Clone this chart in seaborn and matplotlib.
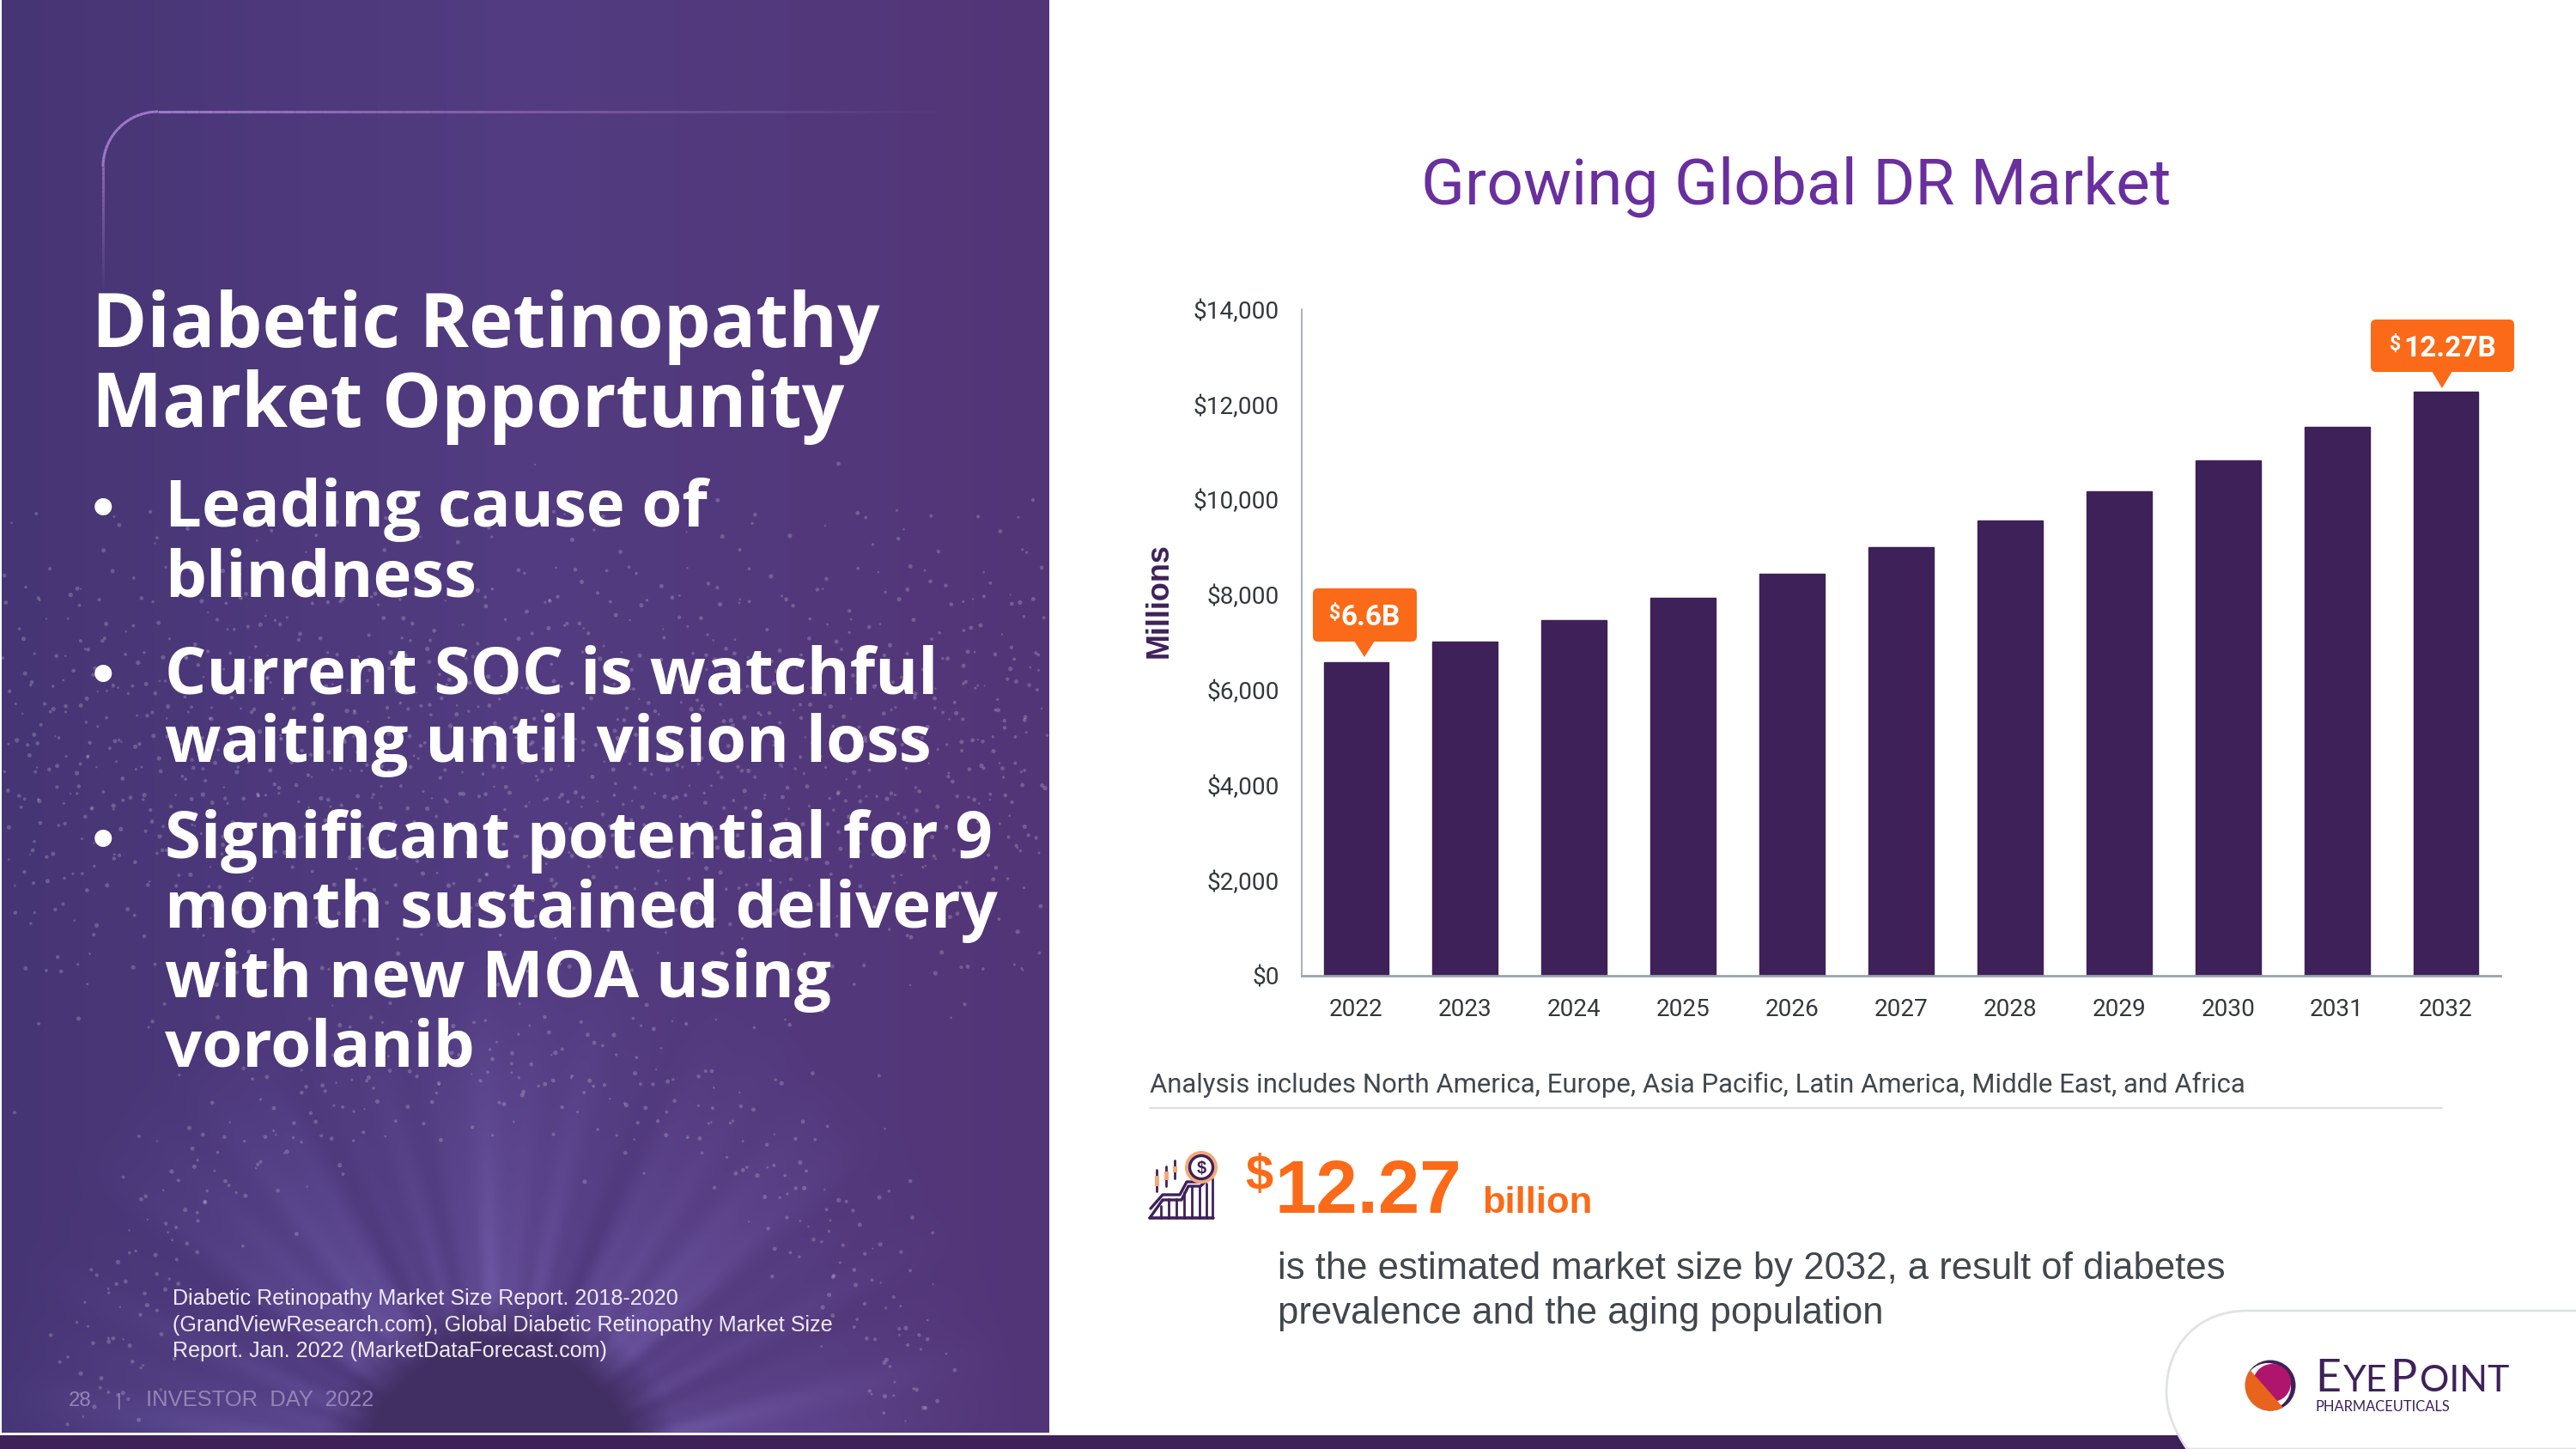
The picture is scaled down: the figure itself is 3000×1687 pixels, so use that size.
import numpy as np
import pandas as pd
import matplotlib
matplotlib.use('Agg')
import matplotlib.pyplot as plt
import seaborn as sns
from matplotlib.patches import PathPatch, FancyBboxPatch, Polygon, Circle, Rectangle
from matplotlib.path import Path
from matplotlib.collections import LineCollection

# chart values ($ millions)
years = ['2022', '2023', '2024', '2025', '2026', '2027', '2028', '2029', '2030', '2031', '2032']
market_size = [6590, 7020, 7470, 7940, 8450, 9000, 9560, 10170, 10830, 11530, 12270]
y_ticks = [0, 2000, 4000, 6000, 8000, 10000, 12000, 14000]
y_tick_labels = ['$0', '$2,000', '$4,000', '$6,000', '$8,000', '$10,000', '$12,000', '$14,000']

title = 'Growing Global DR Market'
headline = ['Diabetic Retinopathy', 'Market Opportunity']
bullets = ['Leading cause of', 'blindness', 'Current SOC is watchful', 'waiting until vision loss',
           'Significant potential for 9', 'month sustained delivery', 'with new MOA using', 'vorolanib']
footnote = ['Diabetic Retinopathy Market Size Report. 2018-2020',
            '(GrandViewResearch.com), Global Diabetic Retinopathy Market Size',
            'Report. Jan. 2022 (MarketDataForecast.com)']

PURPLE = '#3f2159'
ORANGE = '#fa6a18'
GREY = '#41474d'
W, H = 3000, 1687


def pt(px):
    # pixel height of the em -> points at 200 dpi
    return px * 72 / 200


sns.set_theme(style='white')
plt.rcParams['font.family'] = ['Liberation Sans', 'DejaVu Sans']
plt.rcParams['text.parse_math'] = False

fig = plt.figure(figsize=(15, 8.435), dpi=200, facecolor='white')

# --- bar chart ---
ax = fig.add_axes([1516 / W, 1 - 1136 / H, 1396 / W, 776 / H], facecolor='none', zorder=2)
df = pd.DataFrame({'year': years, 'size': market_size})
sns.barplot(data=df, x='year', y='size', color=PURPLE, saturation=1, width=0.598, edgecolor=PURPLE, linewidth=0.5, ax=ax)
ax.set_xlim(-0.5, 10.5)
ax.set_ylim(0, 14000)
ax.set_yticks(y_ticks)
ax.set_yticklabels(y_tick_labels, fontfamily='Roboto', fontsize=pt(28), color='#33383d')
ax.set_xticks(range(len(years)))
ax.set_xticklabels(years, fontfamily='Roboto', fontsize=pt(28), color='#33383d')
ax.tick_params(axis='y', length=0, pad=9.5)
ax.tick_params(axis='x', length=0, pad=9.5)
ax.set_xlabel('')
ax.set_ylabel('Millions', fontsize=pt(36), fontweight='bold', color=PURPLE)
ax.yaxis.set_label_coords(-0.106, 0.563)
sns.despine(ax=ax)
for side in ['left', 'bottom']:
    ax.spines[side].set_color('#9aa3ad')
ax.spines['left'].set_linewidth(0.6)
ax.spines['bottom'].set_linewidth(1.0)

# --- overlay in slide pixels ---
ov = fig.add_axes([0, 0, 1, 1], facecolor='none', zorder=3)
ov.set_xlim(0, W)
ov.set_ylim(H, 0)
ov.axis('off')

# left panel background: gradient, light rays and dark dome
yy, xx = np.mgrid[0:1668:2, 2:1222:2]
u = (xx - 2) / 1220
left_c = np.array([0x46, 0x35, 0x75])
mid_c = np.array([0x53, 0x3c, 0x81])
right_c = np.array([0x52, 0x35, 0x77])
base = np.where(u[..., None] < 0.5,
                left_c + (mid_c - left_c) * (u[..., None] / 0.5),
                mid_c + (right_c - mid_c) * ((u[..., None] - 0.5) / 0.5))
r = np.hypot(xx - 580, yy - 1720)
ang = np.arctan2(xx - 580, 1720 - yy)
rays = 0.55 + 0.3 * np.cos(ang * 9) + 0.2 * np.cos(ang * 23 + 1) + 0.12 * np.cos(ang * 51 + 2)
fade = np.clip(1 - r / 620, 0, 1) ** 1.1
glow = (rays * fade)[..., None] * np.array([36, 38, 48])
img = base + glow
dome = np.clip((215 - r) / 60, 0, 1)[..., None]
img = img * (1 - dome) + np.array([0x41, 0x2e, 0x62]) * dome
ov.imshow(np.clip(img, 0, 255).astype(np.uint8), extent=(2, 1222, 1668, 0), aspect='auto', zorder=0,
          interpolation='bilinear')
ov.set_xlim(0, W)
ov.set_ylim(H, 0)

# speckles on a fixed lattice, pushed off the grid and thinned towards top and bottom
idx = np.arange(1, 5200)
sx = 2 + 1220 * ((idx * 0.7548776662) % 1) + 22 * np.sin(idx * 12.9898)
sy = 560 + 1090 * ((idx * 0.5698402910) % 1) + 22 * np.sin(idx * 78.233)
density = np.exp(-((sy - 880) / 210) ** 2) * 0.75 + 0.6 * np.exp(-((np.hypot(sx - 580, sy - 1720) - 480) / 60) ** 2)
keep = (((idx * 0.6180339887) % 1) < density) & (sx > 3) & (sx < 1220) & (sy < 1665)
ov.scatter(sx[keep], sy[keep], s=((idx[keep] * 0.381) % 1) * 3 + 0.6, c='white', alpha=0.2, linewidths=0, zorder=1)

# rounded bracket at the top of the panel, fading out at both ends
th = np.linspace(np.pi, 1.5 * np.pi, 24)
bx = np.r_[np.full(30, 120), 184 + 64 * np.cos(th), np.linspace(184, 1122, 60)]
by = np.r_[np.linspace(345, 194, 30), 194 + 64 * np.sin(th), np.full(60, 130)]
pts = np.c_[bx, by]
seg_alpha = np.r_[np.linspace(0, 0.7, 30), np.full(23, 0.9), np.linspace(0.9, 0, 60)]
seg_col = [(0.66, 0.50, 0.82, a) for a in seg_alpha]
ov.add_collection(LineCollection(np.stack([pts[:-1], pts[1:]], axis=1)[:len(seg_col)], colors=seg_col, linewidths=1.1, zorder=2))

# left panel text
for line, base_y in zip(headline, [404, 497]):
    ov.text(107, base_y, line, fontsize=pt(87), fontweight='bold', fontfamily='Open Sans', color='white', va='baseline', zorder=4)
for line, base_y in zip(bullets, [613, 694, 807, 887, 999, 1080, 1161, 1242]):
    ov.text(192, base_y, line, fontsize=pt(76), fontweight='bold', fontfamily='Open Sans', color='white', va='baseline', zorder=4)
for base_y in [613, 807, 999]:
    ov.text(108, base_y, '•', fontsize=pt(70), fontweight='bold', color='white', va='baseline', zorder=4)
for line, base_y in zip(footnote, [1519, 1550, 1580]):
    ov.text(201, base_y, line, fontsize=pt(25.1), color='#eeeaf4', va='baseline', zorder=4)
ov.text(80, 1637, '28', fontsize=pt(24), color='#9484b8', va='baseline', zorder=4)
ov.text(135, 1637, '|', fontsize=pt(21), color='#9484b8', va='baseline', zorder=4)
ov.text(170, 1637, 'INVESTOR  DAY  2022', fontsize=pt(25.5), color='#9484b8', va='baseline', zorder=4)

# footer bar and logo tab
ov.add_patch(Rectangle((0, 1671), 2600, 16, fc=PURPLE, ec='none', zorder=1))
tab = Path([(3000, 1526), (2618, 1526), (2560, 1526), (2523, 1565), (2523, 1621), (2523, 1645), (2533, 1666), (2547, 1687), (3000, 1687)],
           [Path.MOVETO, Path.LINETO, Path.CURVE4, Path.CURVE4, Path.CURVE4, Path.CURVE4, Path.CURVE4, Path.CURVE4, Path.LINETO])
ov.add_patch(PathPatch(tab, fc='white', ec='#dfe3e3', lw=1.0, zorder=2))

# logo mark
cx, cy = 2644, 1613
ov.add_patch(Circle((cx, cy), 29.5, fc=PURPLE, ec='none', zorder=3))
ov.add_patch(Circle((cx - 3, cy + 1), 27, fc='white', ec='none', zorder=3))
ov.add_patch(Circle((cx + 2, cy - 3), 22, fc='#b0156e', ec='none', zorder=4))
clip = Circle((cx, cy), 29.5, transform=ov.transData)
orange_part = Polygon([(2616, 1590), (2660, 1640), (2660, 1650), (2605, 1650), (2605, 1590)], fc='#e8641c', ec='none', zorder=5)
ov.add_patch(orange_part)
orange_part.set_clip_path(clip)

# EYEPOINT is set in small caps: flow the pieces one after the other
fig.canvas.draw()
x_pos = 2696
for piece, em in [('E', 52), ('YE', 43), ('P', 52), ('OINT', 43)]:
    t = ov.text(x_pos, 1620, piece, fontsize=pt(em), fontfamily='Lato', color=PURPLE, va='baseline', zorder=4)
    ext = t.get_window_extent(fig.canvas.get_renderer())
    x_pos += ext.width + 3
ov.text(2696, 1643, 'PHARMACEUTICALS', fontsize=pt(16.5), fontfamily='Lato', color=PURPLE, va='baseline', zorder=4)

# chart title and notes
ov.text(2092, 237, title, fontsize=pt(74.8), fontfamily='Roboto', color='#6a2f9e', ha='center', va='baseline')
ov.text(1339, 1272, 'Analysis includes North America, Europe, Asia Pacific, Latin America, Middle East, and Africa',
        fontsize=pt(31.2), fontfamily='Roboto', color=GREY, va='baseline')
ov.plot([1339, 2844], [1290, 1290], color='#dfe2e2', lw=0.8)


def callout(x0, x1, y0, y1, tip_x, tip_y, base_half, dollar_x, label_x, base_y, label):
    ov.add_patch(FancyBboxPatch((x0 + 6, y0 + 6), x1 - x0 - 12, y1 - y0 - 12, boxstyle='round,pad=6,rounding_size=6',
                                fc=ORANGE, ec='none', zorder=3))
    ov.add_patch(Polygon([(tip_x - base_half, y1 - 1), (tip_x + base_half, y1 - 1), (tip_x, tip_y)], fc=ORANGE, ec='none', zorder=3))
    ov.text(dollar_x, base_y - 8, '$', fontsize=pt(23), fontfamily='Roboto', fontweight='bold', color='white', va='baseline', zorder=4)
    ov.text(label_x, base_y, label, fontsize=pt(33.5), fontfamily='Roboto', fontweight='bold', color='white', va='baseline', zorder=4)


callout(1529, 1650, 685, 747, 1589, 765, 12, 1548, 1561, 728, '6.6B')
callout(2761, 2928, 372, 433, 2844, 452, 12, 2783, 2799, 415, '12.27B')

# big number block
ov.text(1450, 1385, '$', fontsize=pt(58), fontweight='bold', color=ORANGE, va='baseline')
ov.text(1484, 1412, '12.27', fontsize=pt(87), fontweight='bold', color=ORANGE, va='baseline')
ov.text(1726, 1412, 'billion', fontsize=pt(43.5), fontweight='bold', color=ORANGE, va='baseline')
ov.text(1488, 1489, 'is the estimated market size by 2032, a result of diabetes', fontsize=pt(43.6), color=GREY, va='baseline')
ov.text(1488, 1541, 'prevalence and the aging population', fontsize=pt(43.6), color=GREY, va='baseline')

# little growth icon next to the number
ov.plot([1339, 1413], [1418, 1418], color=PURPLE, lw=1.3)
for bar_x, bar_top in zip([1352, 1361, 1370, 1379, 1388, 1397, 1405, 1412], [1404, 1396, 1396, 1388, 1382, 1382, 1378, 1372]):
    ov.plot([bar_x, bar_x], [1418, bar_top], color=PURPLE, lw=1.0)
ov.plot([1339, 1354, 1376, 1384, 1398, 1408], [1418, 1397, 1397, 1381, 1381, 1372], color=PURPLE, lw=1.2)
ov.plot([1340, 1354, 1374, 1382, 1396], [1407, 1391, 1391, 1376, 1376], color=PURPLE, lw=1.2)
for cand_x, c0, c1, b0, b1 in zip([1347, 1358, 1368], [1362, 1358, 1351], [1387, 1381, 1372], [1369, 1364, 1358], [1381, 1374, 1365]):
    ov.plot([cand_x, cand_x], [c0, c1], color=PURPLE, lw=1.0)
    ov.add_patch(Rectangle((cand_x - 2.5, b0), 5, b1 - b0, fc='#f5a878', ec='none', zorder=3))
ov.add_patch(Circle((1399, 1359), 19, fc='#f5a878', ec='none', zorder=3))
ov.add_patch(Circle((1399, 1359), 13.5, fc='white', ec=PURPLE, lw=1.2, zorder=3))
ov.text(1399, 1360, '$', fontsize=pt(20), fontweight='bold', color=PURPLE, ha='center', va='center', zorder=4)

fig.savefig('out.png', dpi=200)
